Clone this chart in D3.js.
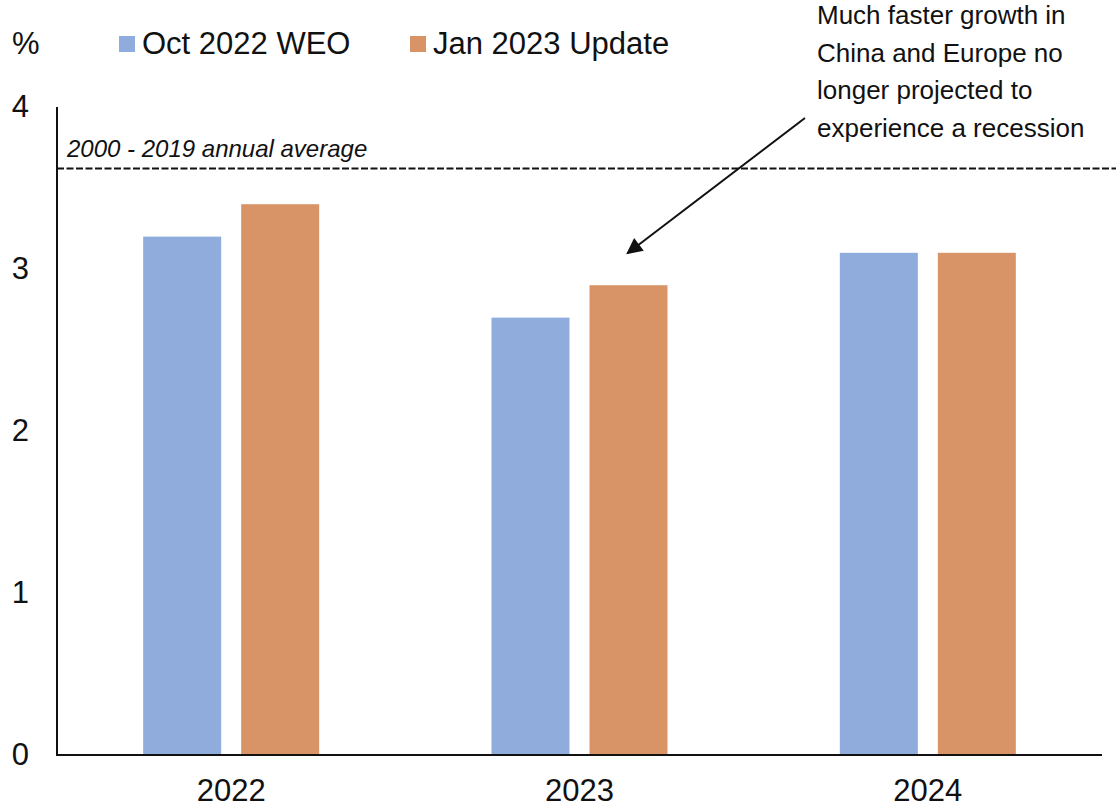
<!DOCTYPE html>
<html>
<head>
<meta charset="utf-8">
<script src="https://cdn.jsdelivr.net/npm/d3@7"></script>
<style>
  html, body { margin: 0; padding: 0; background: #fff; }
  svg { display: block; font-family: "Liberation Sans", Arial, sans-serif; }
</style>
</head>
<body>
<svg id="chart" width="1116" height="807"></svg>
<script>
// World growth projections, percent
const years = ["2022", "2023", "2024"];
const seriesNames = ["Oct 2022 WEO", "Jan 2023 Update"];
const octWEO = [3.2, 2.7, 3.1];
const janUpdate = [3.4, 2.9, 3.1];
const seriesColors = ["#8FACDD", "#D89467"];
const yTicks = [0, 1, 2, 3, 4];
const historicalAverage = 3.62;
const averageLabel = "2000 - 2019 annual average";
const noteLines = [
  "Much faster growth in",
  "China and Europe no",
  "longer projected to",
  "experience a recession"
];

const svg = d3.select("#chart");
const plotLeft = 57, plotRight = 1102, plotTop = 107, plotBottom = 755;
const ink = "#111";
const labelSize = 31;

const x0 = d3.scaleBand().domain(years).range([plotLeft, plotRight])
  .paddingInner(0.4947).paddingOuter(0.2474);
const x1 = d3.scaleBand().domain(seriesNames).range([0, x0.bandwidth()])
  .paddingInner(20 / 98);
const y = d3.scaleLinear().domain([0, 4]).range([plotBottom, plotTop]);

const rows = years.map((yr, i) => ({ year: yr, values: [octWEO[i], janUpdate[i]] }));

// Bars
const groups = svg.append("g").selectAll("g").data(rows).join("g")
  .attr("transform", d => `translate(${x0(d.year)},0)`);
groups.selectAll("rect")
  .data(d => d.values.map((v, k) => ({ name: seriesNames[k], value: v, k })))
  .join("rect")
  .attr("x", d => x1(d.name))
  .attr("width", x1.bandwidth())
  .attr("y", d => y(d.value))
  .attr("height", d => y(0) - y(d.value))
  .attr("fill", d => seriesColors[d.k]);

// Y axis
const yAxis = svg.append("g").attr("transform", `translate(${plotLeft},0)`)
  .call(d3.axisLeft(y).tickValues(yTicks).tickFormat(d3.format("d")).tickSize(0).tickPadding(28));
yAxis.select(".domain").remove();
yAxis.selectAll("text").attr("font-size", labelSize).attr("fill", ink)
  .attr("font-family", "'Liberation Sans', Arial, sans-serif");
svg.append("line").attr("x1", plotLeft).attr("x2", plotLeft).attr("y1", plotTop).attr("y2", plotBottom)
  .attr("stroke", ink).attr("stroke-width", 2);

// X axis
const xAxis = svg.append("g").attr("transform", `translate(0,${plotBottom})`)
  .call(d3.axisBottom(x0).tickSize(0).tickPadding(24));
xAxis.select(".domain").remove();
xAxis.selectAll("text").attr("font-size", labelSize).attr("fill", ink)
  .attr("font-family", "'Liberation Sans', Arial, sans-serif");
svg.append("line").attr("x1", plotLeft - 1).attr("x2", plotRight).attr("y1", plotBottom).attr("y2", plotBottom)
  .attr("stroke", ink).attr("stroke-width", 2);

// Historical average reference line
svg.append("line")
  .attr("x1", plotLeft).attr("x2", 1116)
  .attr("y1", y(historicalAverage)).attr("y2", y(historicalAverage))
  .attr("stroke", ink).attr("stroke-width", 2).attr("stroke-dasharray", "7,2.5");
svg.append("text")
  .attr("x", 67).attr("y", y(historicalAverage) - 12)
  .attr("font-size", 24).attr("font-style", "italic").attr("fill", ink)
  .text(averageLabel);

// Unit label and legend
svg.append("text").attr("x", 12).attr("y", 54).attr("font-size", labelSize).attr("fill", ink).text("%");
const legendX = [119, 410];
const legend = svg.append("g").selectAll("g").data(seriesNames).join("g")
  .attr("transform", (d, i) => `translate(${legendX[i]},36)`);
legend.append("rect").attr("width", 16).attr("height", 16)
  .attr("fill", (d, i) => seriesColors[i]);
legend.append("text").attr("x", 23).attr("y", 18).attr("font-size", labelSize)
  .attr("fill", ink).text(d => d);

// Annotation with arrow
const defs = svg.append("defs");
defs.append("marker").attr("id", "arrowhead")
  .attr("viewBox", "0 0 10 10").attr("refX", 9).attr("refY", 5)
  .attr("markerWidth", 8.5).attr("markerHeight", 8).attr("markerUnits", "strokeWidth")
  .attr("orient", "auto")
  .append("path").attr("d", "M0,0 L10,5 L0,10 Z").attr("fill", ink);

const tipX = x0("2023") + x1("Jan 2023 Update") + 38;
const tipY = y(janUpdate[1]) - 32;
svg.append("line")
  .attr("x1", 805).attr("y1", 118)
  .attr("x2", tipX).attr("y2", tipY)
  .attr("stroke", ink).attr("stroke-width", 2)
  .attr("marker-end", "url(#arrowhead)");

svg.append("text").attr("font-size", 26).attr("fill", ink)
  .selectAll("tspan").data(noteLines).join("tspan")
  .attr("x", 817).attr("y", (d, i) => 24 + i * 37.7)
  .text(d => d);
</script>
</body>
</html>
